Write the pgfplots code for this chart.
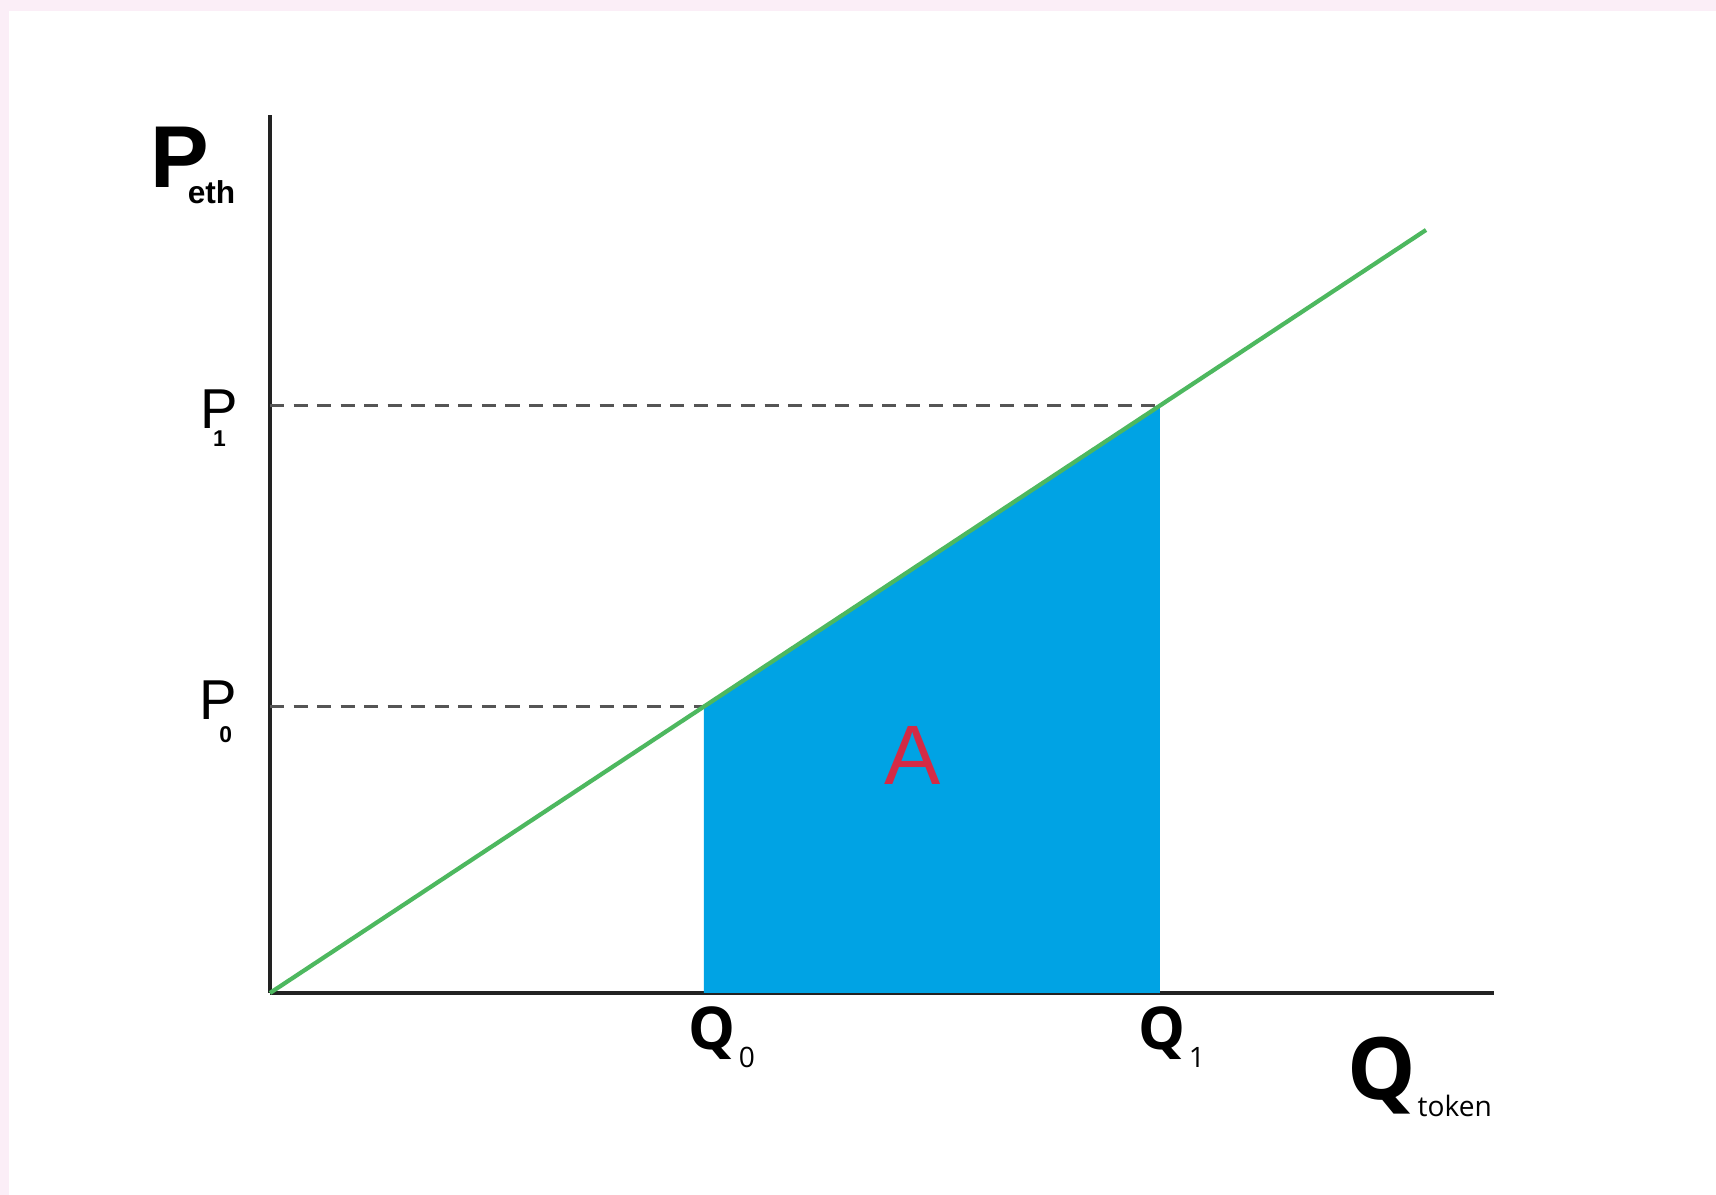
\documentclass[border=0pt]{standalone}
\usepackage{pgfplots}
\pgfplotsset{compat=1.18}
\usepackage{fontspec}
\setmainfont{Liberation Sans}
\newfontfamily\qfont{Open Sans}
\usetikzlibrary{backgrounds}

\definecolor{pinkbg}{HTML}{FBEEF7}
\definecolor{axiscol}{HTML}{222222}
\definecolor{areablue}{HTML}{00A3E4}
\definecolor{linegreen}{HTML}{4DB85F}
\definecolor{dashgray}{HTML}{555555}
\definecolor{labelred}{HTML}{D42A45}

\begin{document}
\begin{tikzpicture}
\begin{axis}[
    at={(0,0)}, anchor=south west,
    x=1cm, y=1cm,
    xmin=0, xmax=12.24,
    ymin=0, ymax=8.78,
    axis lines=left,
    axis line style={-, line width=1.2pt, draw=axiscol},
    xtick=\empty, ytick=\empty,
    clip=false,
]

% area A under the supply line between Q0 and Q1
\addplot[fill=areablue, draw=none] coordinates {
    (4.34, 0) (4.34, 2.865) (8.90, 5.874) (8.90, 0)
} \closedcycle;

% price guides
\addplot[dashgray, line width=0.95pt, dash pattern=on 4pt off 2.7pt] coordinates {
    (0, 2.865) (4.34, 2.865)
};
\addplot[dashgray, line width=0.95pt, dash pattern=on 4pt off 2.7pt] coordinates {
    (0, 5.874) (8.90, 5.874)
};

% bonding curve
\addplot[linegreen, line width=1.2pt] coordinates {
    (0, 0) (11.56, 7.63)
};

% axis names
\node[anchor=base west, inner sep=0] at (axis cs:-1.20, 8.05)
    {{\fontsize{25}{25}\selectfont\bfseries P}\kern-6.1pt\raisebox{-4.3pt}{\fontsize{9}{9}\selectfont\bfseries eth}};
\node[anchor=base west, inner sep=0] at (axis cs:10.77, -1.07) {\qfont\fontsize{24.5}{24.5}\selectfont\bfseries Q};
\node[anchor=base west, inner sep=0] at (axis cs:11.47, -1.24) {\qfont\fontsize{8}{8}\selectfont token};

% price labels
\node[anchor=base west, inner sep=0] at (axis cs:-0.70, 5.64)
    {{\fontsize{16}{16}\selectfont P}\kern-7.1pt\raisebox{-5.1pt}{\fontsize{6.5}{6.5}\selectfont\bfseries 1}};
\node[anchor=base west, inner sep=0] at (axis cs:-0.71, 2.73)
    {{\fontsize{16}{16}\selectfont P}\kern-5.1pt\raisebox{-6.3pt}{\fontsize{6.5}{6.5}\selectfont\bfseries 0}};

% quantity labels
\node[anchor=base west, inner sep=0] at (axis cs:4.18, -0.57) {\qfont\fontsize{16.8}{16.8}\selectfont\bfseries Q};
\node[anchor=base, inner sep=0] at (axis cs:4.77, -0.75) {\qfont\fontsize{8}{8}\selectfont 0};
\node[anchor=base west, inner sep=0] at (axis cs:8.68, -0.57) {\qfont\fontsize{16.8}{16.8}\selectfont\bfseries Q};
\node[anchor=base, inner sep=0] at (axis cs:9.27, -0.75) {\qfont\fontsize{8}{8}\selectfont 1};

% area label
\node[anchor=base, inner sep=0, text=labelred] at (axis cs:6.43, 2.08) {\fontsize{24}{24}\selectfont A};
\end{axis}

\begin{scope}[on background layer]
    \fill[pinkbg] (-2.70,-2.02) rectangle (14.46,9.93);
    \fill[white] (-2.61,-2.02) rectangle (14.46,9.82);
\end{scope}
\end{tikzpicture}
\end{document}
